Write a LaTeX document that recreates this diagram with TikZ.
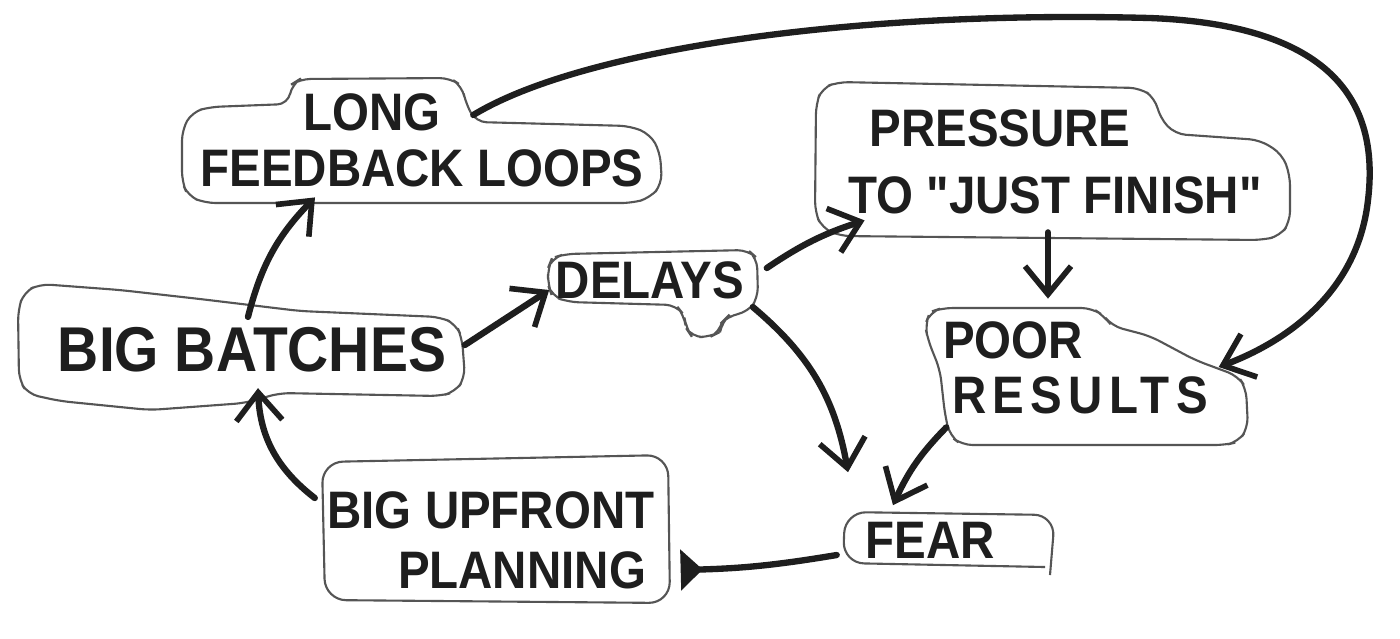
\documentclass[tikz,border=0pt]{standalone}
\usepackage{fontspec}
\newfontfamily\hand[FakeStretch=0.9]{Liberation Sans}
\usetikzlibrary{arrows.meta}
\definecolor{ink}{HTML}{1E1E1E}
\definecolor{outline}{HTML}{555555}
\begin{document}
\begin{tikzpicture}[x=0.01cm,y=-0.01cm,
  lbl/.style={font=\hand\bfseries\fontsize{15}{18}\selectfont, text=ink, inner sep=0pt},
  biglbl/.style={font=\hand\bfseries\fontsize{18}{22}\selectfont, text=ink, inner sep=0pt},
  blob/.style={draw=outline, line width=0.6pt, rounded corners=3pt},
  conn/.style={draw=ink, line width=1.8pt, line cap=round,
    -{Straight Barb[length=2.8mm,width=4.6mm,line width=1.6pt]}},
  blockconn/.style={draw=ink, line width=1.8pt, line cap=round,
    -{Triangle[reversed,length=2.2mm,width=4mm]}}]
\fill[white] (0,0) rectangle (1400,638);
\useasboundingbox (0,0) rectangle (1400,638);

% outlines
\draw[blob] (288,104) -- (292,84) -- (300,79) -- (450,78) -- (462,86) -- (466,104) -- (476,122) -- (630,126) -- (650,134) -- (660,152) -- (662,184) -- (650,198) -- (632,203) -- (205,203) -- (188,196) -- (182,182) -- (182,130) -- (192,112) -- (210,107) -- cycle;
\draw[blob] (816,104) -- (822,88) -- (838,82) -- (1140,88) -- (1155,98) -- (1160,118) -- (1175,134) -- (1260,140) -- (1282,154) -- (1290,175) -- (1290,222) -- (1280,236) -- (1262,240) -- (840,236) -- (822,228) -- (815,212) -- cycle;
\draw[blob] (548,268) -- (552,258) -- (565,254) -- (748,250) -- (757,258) -- (758,298) -- (748,312) -- (728,316) -- (722,322) -- (720,332) -- (710,337) -- (692,337) -- (686,328) -- (684,315) -- (676,305) -- (568,302) -- (552,296) -- (548,285) -- cycle;
\draw[blob] (18,310) -- (24,292) -- (40,284) -- (120,290) -- (200,299) -- (300,311) -- (440,317) -- (456,324) -- (462,338) -- (465,378) -- (455,392) -- (440,396) -- (280,393) -- (245,403) -- (150,410) -- (60,401) -- (28,394) -- (19,380) -- cycle;
\draw[blob] (925,325) -- (930,312) -- (942,308) -- (1092,308) -- (1104,316) -- (1112,326) -- (1150,336) -- (1195,360) -- (1238,376) -- (1246,388) -- (1248,428) -- (1238,442) -- (1225,445) -- (962,445) -- (950,436) -- (945,415) -- (940,370) -- (928,340) -- cycle;
\draw[blob, rounded corners=6pt] (322,462) -- (668,455) -- (670,603) -- (325,600) -- cycle;
\draw[blob, rounded corners=6pt] (1050,575) -- (1055,515) -- (845,512) -- (843,563) -- (1045,567);

% texts
\node[lbl] (long) at (372,112) {LONG};
\node[lbl] (feedback) at (422,168) {FEEDBACK LOOPS};
\node[lbl] (pressure) at (1000,128) {PRESSURE};
\node[lbl] (finish) at (1055,195) {TO "JUST FINISH"};
\node[lbl] (delays) at (650,280) {DELAYS};
\node[biglbl] (batches) at (252,350) {BIG BATCHES};
\node[lbl] (poor) at (1013,340) {POOR};
\node[lbl, font=\hand\bfseries\fontsize{15}{18}\selectfont\addfontfeatures{LetterSpace=12}] (results) at (1080,395) {RESULTS};
\node[lbl] (bigup) at (491,510) {BIG UPFRONT};
\node[lbl] (planning) at (522,570) {PLANNING};
\node[lbl] (fear) at (930,540) {FEAR};

% connectors
\draw[conn] ([shift={(-4,-10)}]batches.north) to[bend left=15] ([shift={(-107,10)}]feedback.south);
\draw[conn] ([shift={(18,-5)}]batches.east) -- ([shift={(-6,10)}]delays.west);
\draw[conn] ([shift={(22,-12)}]delays.east) to[bend left=8] ([shift={(17,6)}]finish.south west);
\draw[conn] ([shift={(-7,18)}]finish.south) -- ([shift={(35,-22)}]poor.north);
\draw[conn] ([shift={(32,3)}]long.east) .. controls (580,50) and (850,10) .. (1150,18)
   .. controls (1330,25) and (1380,100) .. (1368,200)
   .. controls (1358,290) and (1290,340) .. ([shift={(10,-28)}]results.east);
\draw[conn] ([shift={(8,27)}]delays.east) to[bend left=20] ([shift={(-82,-49)}]fear.north);
\draw[conn] ([shift={(-5,13)}]results.south west) to[bend right=10] ([shift={(-37,-16)}]fear.north);
\draw[blockconn] ([shift={(-28,15)}]fear.west) to[bend left=4] ([shift={(34,0)}]planning.east);
\draw[conn] ([shift={(-12,-12)}]bigup.west) to[bend left=25] ([shift={(6,15)}]batches.south);
\end{tikzpicture}
\end{document}
